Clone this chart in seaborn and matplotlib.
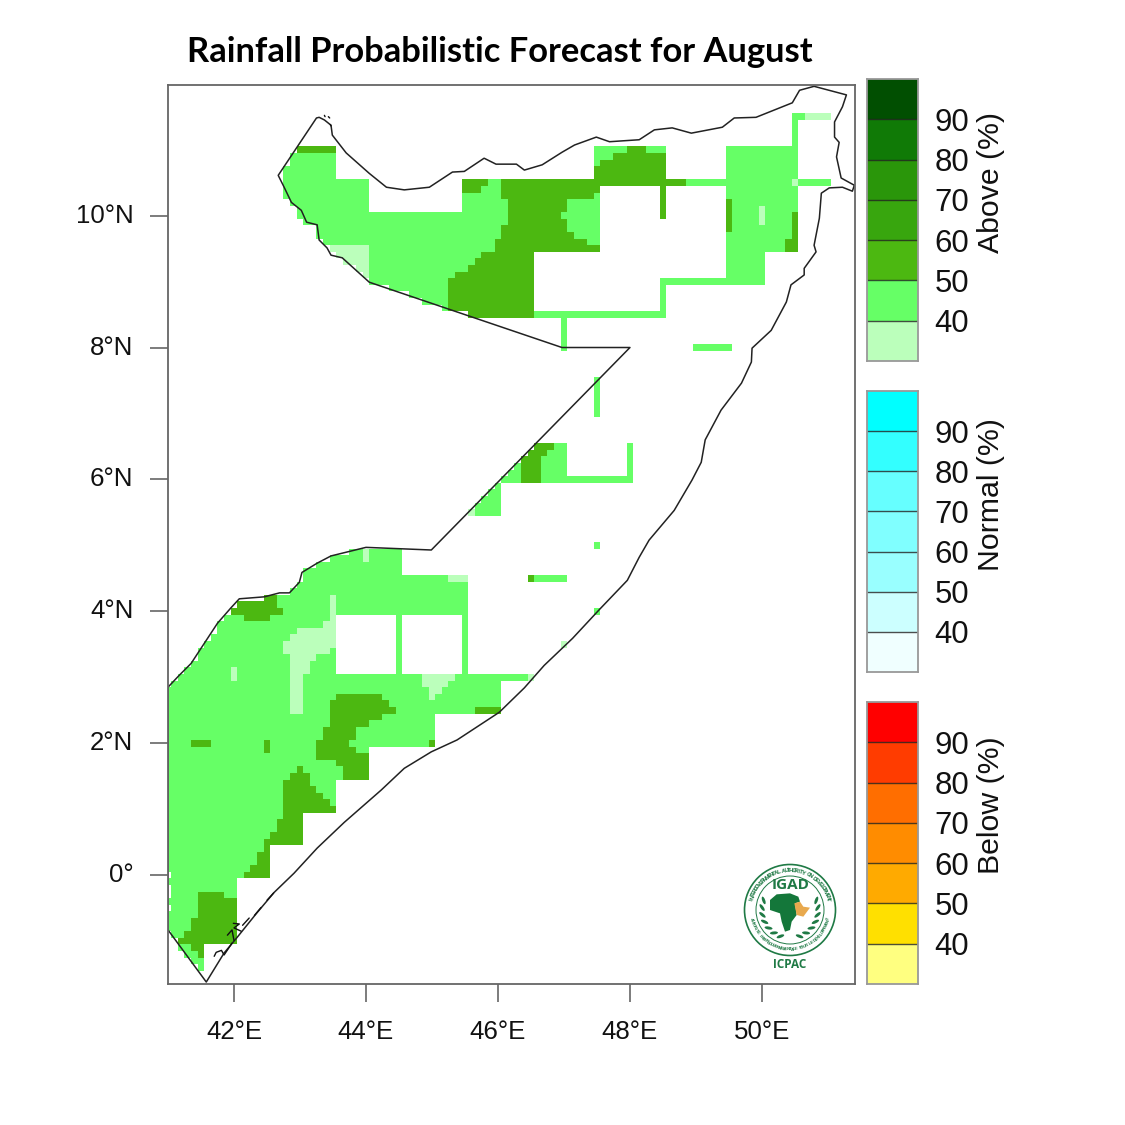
import numpy as np
import matplotlib
matplotlib.use("Agg")
import matplotlib.pyplot as plt
from matplotlib.colors import ListedColormap
from matplotlib.patches import Circle, Ellipse, Polygon
import seaborn as sns

# legend colours, top box first
ABOVE_COLORS = ["#014F01", "#107A06", "#2A960A", "#38A60E", "#4CB811", "#66FF66", "#BBFFBB"]
NORMAL_COLORS = ["#00FFFF", "#33FFFF", "#66FFFF", "#80FFFF", "#99FFFF", "#CCFFFF", "#F0FFFF"]
BELOW_COLORS = ["#FF0000", "#FF3C00", "#FF6E00", "#FF8C00", "#FFAA00", "#FFE000", "#FFFF80"]
LEGEND_BINS = [95, 85, 75, 65, 55, 45, 35]
LEGEND_LABELS = ["90", "80", "70", "60", "50", "40"]

LON_TICKS = [42, 44, 46, 48, 50]
LAT_TICKS = [10, 8, 6, 4, 2, 0]

# forecast cells as (lat top, lat bottom, lon left, lon right), 0.1 degree grid
BIN_40 = [
    (11.5, 11.5, 50.7, 51.0), (10.5, 10.5, 50.5, 50.5), (10.1, 9.9, 50.0, 50.0),
    (9.5, 9.5, 43.5, 44.0), (9.4, 9.4, 43.6, 44.0), (9.3, 9.3, 43.7, 44.0),
    (9.2, 9.2, 43.9, 44.0), (9.1, 9.1, 44.0, 44.0), (5.5, 5.5, 45.6, 45.6),
    (4.9, 4.8, 44.0, 44.0), (4.5, 4.5, 45.3, 45.5), (4.2, 3.9, 43.5, 43.5),
    (3.8, 3.8, 43.4, 43.5), (3.7, 3.7, 43.0, 43.5), (3.6, 3.6, 42.9, 43.5),
    (3.5, 3.5, 42.8, 43.5), (3.5, 3.5, 47.0, 47.0), (3.4, 3.4, 42.8, 43.4),
    (3.3, 3.3, 42.9, 43.2), (3.2, 3.1, 42.9, 43.1), (3.0, 2.5, 42.9, 43.0),
    (3.1, 3.0, 42.0, 42.0), (3.0, 3.0, 44.9, 45.3), (2.9, 2.9, 44.9, 45.2),
    (2.8, 2.8, 45.0, 45.1), (2.7, 2.7, 45.0, 45.0), (3.0, 3.0, 46.5, 46.5),
]
BIN_50 = [
    (10.9, 10.8, 42.9, 43.5), (10.7, 10.6, 42.8, 43.5), (10.5, 10.3, 42.8, 44.0),
    (10.2, 10.2, 42.9, 44.0), (10.1, 10.1, 43.0, 44.0), (10.0, 10.0, 43.0, 46.1),
    (9.9, 9.9, 43.1, 46.1), (9.8, 9.7, 43.3, 46.1), (9.6, 9.6, 43.4, 46.1),
    (9.5, 9.1, 44.1, 46.1), (9.0, 9.0, 44.1, 45.2), (8.9, 8.9, 44.4, 45.2),
    (8.8, 8.8, 44.7, 45.2), (8.7, 8.7, 44.9, 45.2), (8.6, 8.6, 45.2, 45.2),
    (10.5, 10.1, 45.5, 46.1), (10.3, 9.6, 46.9, 47.5), (11.0, 10.6, 47.5, 48.5),
    (10.5, 10.5, 48.9, 49.4), (11.0, 9.5, 49.5, 50.5), (9.4, 9.1, 49.5, 50.0),
    (9.0, 9.0, 48.5, 50.0), (8.9, 8.6, 48.5, 48.5), (8.5, 8.5, 46.6, 48.5),
    (8.4, 8.0, 47.0, 47.0), (11.5, 11.1, 50.5, 50.5), (11.5, 11.5, 50.6, 50.6),
    (10.5, 10.5, 50.6, 51.0), (8.0, 8.0, 49.0, 49.5), (7.5, 7.0, 47.5, 47.5),
    (6.5, 6.0, 46.7, 47.0), (6.2, 6.2, 46.3, 46.4), (6.1, 6.1, 46.2, 46.4),
    (6.0, 6.0, 46.1, 48.0), (6.5, 6.1, 48.0, 48.0), (5.9, 5.9, 46.0, 46.0),
    (5.8, 5.8, 45.9, 46.0), (5.7, 5.7, 45.8, 46.0), (5.6, 5.5, 45.7, 46.0),
    (5.0, 5.0, 47.5, 47.5), (4.5, 4.5, 46.6, 47.0), (4.0, 4.0, 47.5, 47.5),
    (4.9, 4.9, 43.8, 44.5), (4.8, 4.8, 43.5, 44.5), (4.7, 4.7, 43.3, 44.5),
    (4.6, 4.6, 43.1, 44.5), (4.5, 4.5, 43.1, 45.5), (4.4, 4.4, 43.0, 45.5),
    (4.3, 4.3, 42.9, 45.5), (4.2, 4.1, 42.7, 45.5), (4.0, 4.0, 42.8, 45.5),
    (3.9, 3.9, 41.9, 43.5), (3.8, 3.7, 41.8, 43.5), (3.6, 3.6, 41.7, 43.5),
    (3.5, 3.5, 41.6, 43.5), (3.4, 3.3, 41.5, 43.5), (3.2, 3.2, 41.4, 43.5),
    (3.1, 3.1, 41.3, 43.5), (3.9, 3.1, 44.5, 44.5), (3.9, 3.1, 45.5, 45.5),
    (3.0, 3.0, 41.2, 46.4), (2.9, 2.9, 41.1, 46.0), (2.8, 2.5, 41.0, 46.0),
    (2.4, 2.0, 41.0, 45.0), (1.9, 1.5, 41.0, 44.0), (1.4, 1.0, 41.0, 43.5),
    (0.9, 0.5, 41.0, 43.0), (0.4, 0.1, 41.0, 42.5), (0.0, 0.0, 41.1, 42.5),
    (-0.1, -0.1, 41.0, 42.0), (-0.2, -0.3, 41.1, 42.0), (-0.4, -0.4, 41.0, 42.0),
    (-0.5, -0.5, 41.1, 42.0), (-0.6, -0.8, 41.0, 42.0), (-0.9, -0.9, 41.1, 42.0),
    (-1.0, -1.0, 41.2, 42.0), (-1.1, -1.1, 41.2, 41.5), (-1.2, -1.2, 41.3, 41.5),
    (-1.3, -1.3, 41.4, 41.5), (-1.4, -1.4, 41.5, 41.5),
]
BIN_60 = [
    (11.0, 11.0, 43.0, 43.5), (10.5, 10.5, 45.5, 45.8), (10.4, 10.4, 45.5, 45.7),
    (10.5, 10.5, 46.1, 48.8), (10.4, 10.4, 46.1, 47.5), (10.3, 10.3, 46.1, 47.4),
    (10.2, 10.1, 46.2, 47.0), (10.0, 10.0, 46.2, 46.9), (9.9, 9.9, 46.2, 47.0),
    (9.8, 9.8, 46.1, 47.0), (9.7, 9.7, 46.1, 47.1), (9.6, 9.6, 46.0, 47.3),
    (9.5, 9.5, 46.0, 47.5), (9.4, 9.4, 45.8, 46.5), (9.3, 9.3, 45.7, 46.5),
    (9.2, 9.2, 45.6, 46.5), (9.1, 9.1, 45.4, 46.5), (9.0, 8.6, 45.3, 46.5),
    (8.5, 8.5, 45.6, 46.5), (11.0, 11.0, 48.0, 48.2), (10.9, 10.9, 47.8, 48.5),
    (10.8, 10.8, 47.6, 48.5), (10.7, 10.6, 47.5, 48.5), (10.4, 10.0, 48.5, 48.5),
    (10.2, 9.8, 49.5, 49.5), (10.0, 9.7, 50.5, 50.5), (9.6, 9.5, 50.4, 50.5),
    (6.5, 6.5, 46.6, 46.8), (6.4, 6.4, 46.5, 46.7), (6.3, 6.0, 46.4, 46.6),
    (4.5, 4.5, 46.5, 46.5), (4.2, 4.2, 42.5, 42.6), (4.1, 4.1, 42.1, 42.6),
    (4.0, 4.0, 42.0, 42.7), (3.9, 3.9, 42.2, 42.5), (2.7, 2.7, 43.6, 44.2),
    (2.6, 2.6, 43.5, 44.3), (2.5, 2.5, 43.5, 44.4), (2.4, 2.4, 43.5, 44.2),
    (2.3, 2.3, 43.5, 44.0), (2.2, 2.1, 43.4, 43.8), (2.0, 2.0, 43.3, 43.7),
    (1.9, 1.9, 43.3, 43.8), (1.8, 1.8, 43.3, 44.0), (1.7, 1.7, 43.6, 44.0),
    (1.6, 1.5, 43.7, 44.0), (1.6, 1.6, 43.0, 43.0), (1.5, 1.5, 42.9, 43.1),
    (1.4, 1.4, 42.8, 43.1), (1.3, 1.3, 42.8, 43.2), (1.2, 1.2, 42.8, 43.3),
    (1.1, 1.1, 42.8, 43.4), (1.0, 1.0, 42.8, 43.5), (0.9, 0.9, 42.8, 43.0),
    (0.8, 0.7, 42.7, 43.0), (0.6, 0.6, 42.6, 43.0), (0.5, 0.5, 42.5, 43.0),
    (0.4, 0.4, 42.5, 42.5), (0.3, 0.2, 42.4, 42.5), (0.1, 0.1, 42.3, 42.5),
    (0.0, 0.0, 42.2, 42.5), (-0.3, -0.3, 41.5, 41.8), (-0.4, -0.6, 41.5, 42.0),
    (-0.7, -0.8, 41.4, 42.0), (-0.9, -0.9, 41.3, 42.0), (-1.0, -1.0, 41.2, 42.0),
    (-1.1, -1.1, 41.4, 41.5), (-1.2, -1.2, 41.5, 41.5), (2.0, 2.0, 41.4, 41.6),
    (2.0, 1.9, 42.5, 42.5), (2.0, 2.0, 45.0, 45.0), (2.5, 2.5, 45.7, 46.0),
]

# country outline
BORDER_LON = [41.0, 41.17, 41.35, 41.75, 41.96, 42.08, 42.46, 42.69, 42.84, 42.99, 43.03, 43.26,
              43.47, 44.0, 44.99, 48.0, 46.97, 44.05, 43.64, 43.47, 43.41, 43.29, 43.26, 43.10,
              43.02, 42.87, 42.76, 42.67, 43.25, 43.29, 43.37, 43.47, 43.49, 43.70, 44.05, 44.31,
              44.58, 44.96, 45.31, 45.49, 45.79, 45.97, 46.28, 46.40, 46.67, 46.97, 47.16, 47.49,
              47.69, 48.14, 48.37, 48.64, 48.93, 49.40, 49.58, 49.91, 50.46, 50.57, 50.79, 51.28,
              51.22, 51.10, 51.10, 51.17, 51.13, 51.20, 51.40, 51.37, 51.22, 51.02, 50.90, 50.87,
              50.79, 50.82, 50.64, 50.64, 50.44, 50.37, 50.14, 49.85, 49.84, 49.69, 49.38, 49.14,
              49.08, 48.94, 48.67, 48.29, 48.14, 47.96, 47.53, 47.13, 46.70, 46.40, 46.02, 45.38,
              44.99, 44.58, 44.23, 43.67, 43.26, 42.91, 42.61, 42.34, 42.05, 41.85, 41.58, 41.0, 41.0]
BORDER_LAT = [2.85, 3.03, 3.21, 3.82, 4.06, 4.19, 4.22, 4.28, 4.28, 4.44, 4.59, 4.73,
              4.84, 4.97, 4.93, 8.0, 8.0, 8.99, 9.36, 9.40, 9.51, 9.63, 9.86, 9.90,
              10.08, 10.20, 10.43, 10.61, 11.48, 11.49, 11.45, 11.37, 11.22, 10.95, 10.64, 10.43,
              10.39, 10.43, 10.66, 10.67, 10.87, 10.78, 10.78, 10.69, 10.77, 10.96, 11.07, 11.19,
              11.12, 11.15, 11.30, 11.33, 11.25, 11.34, 11.48, 11.49, 11.71, 11.90, 11.96, 11.83,
              11.65, 11.42, 11.19, 11.11, 10.89, 10.57, 10.46, 10.37, 10.43, 10.42, 10.34, 9.96,
              9.55, 9.45, 9.20, 9.10, 8.95, 8.69, 8.26, 7.99, 7.78, 7.46, 7.05, 6.60,
              6.26, 5.99, 5.53, 5.08, 4.82, 4.47, 4.02, 3.59, 3.18, 2.84, 2.47, 2.05,
              1.87, 1.62, 1.29, 0.80, 0.41, 0.03, -0.26, -0.58, -0.94, -1.18, -1.62, -0.83, 2.85]

# islets by the southern coast and off Djibouti
ISLET_LONS = [[41.70, 41.73, 41.81, 41.85, 41.97],
              [41.90, 41.97, 42.0],
              [41.99, 42.08, 42.0, 42.11],
              [42.13, 42.23], [42.31, 42.41], [42.50, 42.60],
              [43.37, 43.38], [43.43, 43.45], [43.46, 43.47]]
ISLET_LATS = [[-1.23, -1.17, -1.14, -1.21, -1.03],
              [-0.91, -0.83, -0.99],
              [-0.73, -0.74, -0.80, -0.85],
              [-0.76, -0.65], [-0.61, -0.49], [-0.38, -0.27],
              [11.52, 11.50], [11.50, 11.48], [11.38, 11.36]]

LAT_MAX = 12.0
LAT_MIN = -1.7
LON_MIN = 41.0
LON_MAX = 51.5

FIG_PX = 1125.0


def paint(grid, blocks, value):
    for lat_top, lat_bottom, lon_left, lon_right in blocks:
        r0 = round((LAT_MAX - lat_top) * 10)
        r1 = round((LAT_MAX - lat_bottom) * 10)
        c0 = round((lon_left - LON_MIN) * 10)
        c1 = round((lon_right - LON_MIN) * 10)
        grid[r0:r1 + 1, c0:c1 + 1] = value


# heatmap cell i spans i..i+1, so a grid centre sits at i+0.5
def lon_x(lon):
    return (np.asarray(lon) - LON_MIN) * 10 + 0.5


def lat_y(lat):
    return (LAT_MAX - np.asarray(lat)) * 10 + 0.5


def px_axes(left, top, right, bottom):
    return fig.add_axes([left / FIG_PX, 1 - bottom / FIG_PX, (right - left) / FIG_PX, (bottom - top) / FIG_PX])


sns.set_style("ticks")
plt.rcParams["font.family"] = ["Liberation Sans", "DejaVu Sans"]

fig = plt.figure(figsize=(11.25, 11.25), dpi=100, facecolor="white")

# map
n_rows = round((LAT_MAX - LAT_MIN) * 10) + 1
n_cols = round((LON_MAX - LON_MIN) * 10) + 1
forecast = np.full((n_rows, n_cols), np.nan)
paint(forecast, BIN_50, 45)
paint(forecast, BIN_60, 55)
paint(forecast, BIN_40, 35)

ax = px_axes(168, 85, 855, 984)
sns.heatmap(forecast, ax=ax, cmap=ListedColormap(ABOVE_COLORS[::-1]), vmin=30, vmax=100, cbar=False)
ax.plot(lon_x(BORDER_LON), lat_y(BORDER_LAT), color="#222222", lw=1.1, solid_joinstyle="round")
for lons, lats in zip(ISLET_LONS, ISLET_LATS):
    ax.plot(lon_x(lons), lat_y(lats), color="#111111", lw=1.0)

ax.set_xlim(lon_x(41.0), lon_x(51.41))
ax.set_ylim(lat_y(-1.65), lat_y(11.98))
ax.set_xticks(lon_x(LON_TICKS))
ax.set_xticklabels([f"{v}°E" for v in LON_TICKS], rotation=0, fontsize=18.6, color="#111111")
ax.set_yticks(lat_y(LAT_TICKS))
ax.set_yticklabels([f"{v}°N" if v else "0°" for v in LAT_TICKS], rotation=0, fontsize=18.6, color="#111111")
ax.tick_params(axis="x", length=13, width=1.2, color="#666666", pad=13)
ax.tick_params(axis="y", length=13, width=1.2, color="#666666", pad=12)
for side in ax.spines.values():
    side.set_visible(True)
    side.set_color("#666666")
    side.set_linewidth(1.3)

# legend columns
legend_specs = [("Above (%)", ABOVE_COLORS, 79, 361), ("Normal (%)", NORMAL_COLORS, 391, 672), ("Below (%)", BELOW_COLORS, 702, 984)]
for name, colors, top, bottom in legend_specs:
    bar = px_axes(867, top, 918, bottom)
    bins = np.array(LEGEND_BINS).reshape(-1, 1)
    sns.heatmap(bins, ax=bar, cmap=ListedColormap(colors[::-1]), vmin=30, vmax=100, cbar=False, xticklabels=False)
    bar.hlines(range(1, 7), 0, 1, color="#222222", lw=1.0, alpha=0.8)
    bar.yaxis.tick_right()
    bar.set_yticks(range(1, 7))
    bar.set_yticklabels(LEGEND_LABELS, rotation=0, fontsize=22.4, color="#111111")
    bar.tick_params(axis="y", length=0, pad=12)
    bar.tick_params(axis="x", length=0)
    for side in bar.spines.values():
        side.set_visible(True)
        side.set_color("#999999")
        side.set_linewidth(1.3)
    fig.text(991 / FIG_PX, 1 - (top + 103.5) / FIG_PX, name, rotation=90, fontsize=21.8,
             ha="center", va="center", color="#111111")

fig.text(499.5 / FIG_PX, 1 - 51.5 / FIG_PX, "Rainfall Probabilistic Forecast for August",
         family="Lato", weight="bold", fontsize=24.8, ha="center", va="center", color="black")

# IGAD / ICPAC logo, units are pixels from the badge centre
GREEN = "#1F7A45"
logo = px_axes(740, 858, 842, 975)
logo.set_xlim(-50, 52)
logo.set_ylim(-65, 52)
logo.axis("off")
logo.add_patch(Circle((0, 0), 45.5, fill=False, ec=GREEN, lw=1.2))
logo.add_patch(Circle((0, 0), 34, fill=False, ec=GREEN, lw=0.7))
top_words = "INTERGOVERNMENTAL AUTHORITY ON DEVELOPMENT"
for i, ch in enumerate(top_words):
    ang = np.radians(165 - 150 * i / (len(top_words) - 1))
    logo.text(39.5 * np.cos(ang), 39.5 * np.sin(ang), ch, fontsize=4.3, weight="bold", color=GREEN,
              rotation=np.degrees(ang) - 90, ha="center", va="center")
low_words = "AUTORITÉ INTERGOUVERNEMENTALE POUR LE DÉVELOPPEMENT"
for i, ch in enumerate(low_words):
    ang = np.radians(193 + 154 * i / (len(low_words) - 1))
    logo.text(39.5 * np.cos(ang), 39.5 * np.sin(ang), ch, fontsize=3.2, weight="bold", color=GREEN,
              rotation=np.degrees(ang) + 90, ha="center", va="center")
logo.text(1, 25, "IGAD", fontsize=11, weight="bold", color=GREEN, ha="center", va="center", family="Open Sans")
logo.text(0, -54, "ICPAC", fontsize=8.5, weight="bold", color=GREEN, ha="center", va="center", family="Open Sans")
for sign in (-1, 1):
    for deg in range(-70, 21, 15):
        a = np.radians(deg)
        logo.add_patch(Ellipse((sign * 28 * np.cos(a), 28 * np.sin(a)), 8, 3, angle=sign * (deg + 50),
                               color=GREEN, lw=0))
africa = [(105, 135), (125, 118), (165, 115), (190, 125), (195, 140), (180, 145), (185, 180),
          (170, 200), (165, 225), (150, 230), (140, 200), (135, 175), (105, 165)]
horn = [(178, 145), (195, 140), (205, 155), (225, 158), (205, 185), (185, 180)]
logo.add_patch(Polygon([((x - 165) / 3, (165 - y) / 3) for x, y in africa], color="#14773A", lw=0))
logo.add_patch(Polygon([((x - 165) / 3, (165 - y) / 3) for x, y in horn], color="#E8A94E", lw=0))

fig.savefig("out.png", dpi=100, facecolor="white")
